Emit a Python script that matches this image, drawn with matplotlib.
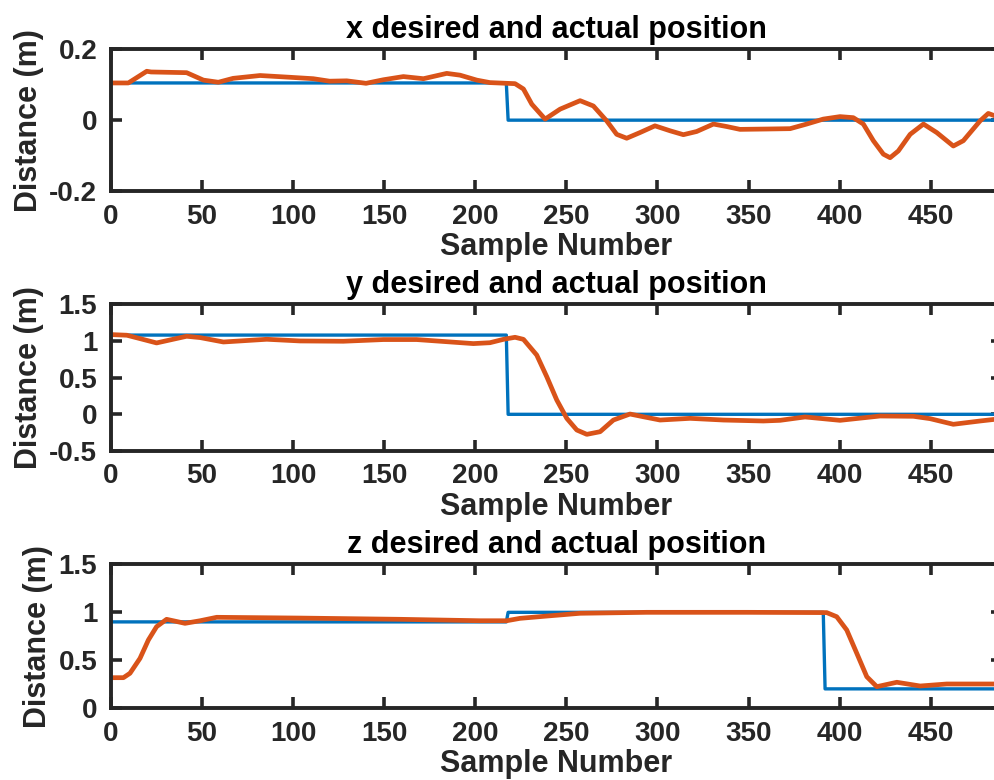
import matplotlib
matplotlib.use("Agg")
import matplotlib.pyplot as plt

# MATLAB-like colours
BLUE = "#0072BD"
ORANGE = "#D95319"
DARK = "#262626"

plt.rcParams["font.family"] = ["Liberation Sans", "DejaVu Sans"]
plt.rcParams["font.weight"] = "bold"

# desired set points (step changes)
x_des_n = [0, 217, 218, 489]
x_des = [0.105, 0.105, 0.0, 0.0]
y_des_n = [0, 217, 218, 489]
y_des = [1.08, 1.08, 0.0, 0.0]
z_des_n = [0, 217, 218, 391, 392, 489]
z_des = [0.9, 0.9, 1.0, 1.0, 0.2, 0.2]

# measured positions
x_act_n = [0, 9.5, 19.6, 22, 41.5, 50.7, 58.9, 67, 81.8, 98.3,
           111, 120, 129.4, 140, 149.5, 160.5, 171.5, 184.3, 191.6, 200.8,
           208, 221.8, 226.4, 231, 238.3, 246.5, 257.5, 264.8, 272.1, 277.6,
           283.1, 290.4, 298.6, 306.9, 314.2, 321.5, 330.7, 338, 345.3, 360,
           372.8, 381.9, 391, 400.2, 407.5, 413, 418.5, 424, 427.7, 432.2,
           438.7, 446, 453.3, 462.4, 467.9, 477.1, 481.6, 485.3]
x_act = [0.105, 0.105, 0.138, 0.136, 0.134, 0.113, 0.107, 0.118, 0.126, 0.121,
         0.117, 0.110, 0.111, 0.104, 0.114, 0.123, 0.117, 0.132, 0.127, 0.113,
         0.106, 0.103, 0.088, 0.045, 0.003, 0.031, 0.055, 0.040, -0.002, -0.040,
         -0.051, -0.035, -0.016, -0.030, -0.041, -0.032, -0.011, -0.018,
         -0.026, -0.025,
         -0.024, -0.011, 0.003, 0.010, 0.007, -0.011, -0.058, -0.096, -0.106,
         -0.087,
         -0.040, -0.011, -0.035, -0.073, -0.058, -0.002, 0.019, 0.012]

y_act_n = [0, 8.7, 15.9, 25, 41.5, 48.9, 61.7, 85.5, 103.8, 127.5,
           149.5, 167.8, 198.9, 208, 215.4, 221.8, 226.4, 233.7, 239.2, 244.7,
           250.2, 255.7, 261.2, 268.5, 275.8, 284.9, 292.2, 301.4, 317.9, 336.2,
           358.1, 367.3, 381, 400.2, 422.2, 440.5, 449.6, 462.4, 477.1, 485.3]
y_act = [1.087, 1.078, 1.032, 0.973, 1.064, 1.046, 0.986, 1.023, 1.0, 0.996,
         1.019, 1.019, 0.964, 0.976, 1.022, 1.05, 1.022, 0.808, 0.513, 0.195,
         -0.055, -0.214, -0.273, -0.237, -0.078, 0.004, -0.033, -0.078,
         -0.055, -0.078,
         -0.091, -0.082, -0.036, -0.082, -0.023, -0.027, -0.059, -0.136,
         -0.091, -0.068]

z_act_n = [0, 6.8, 10.4, 15.9, 20.5, 25, 30.5, 40.6, 48.9, 58, 103.8, 158.7,
           202.6, 217.2, 224.5, 239.2, 257.5, 294.1, 349, 392.9, 398.4,
           403.9, 409.4, 414.9, 420.4, 431.4, 444.2, 458.8, 485.3]
z_act = [0.317, 0.317, 0.363, 0.519, 0.711, 0.850, 0.927, 0.885, 0.912,
         0.948, 0.940, 0.927, 0.912, 0.912, 0.937, 0.961, 0.990, 1.0, 1.0,
         0.997, 0.954, 0.815, 0.572, 0.327, 0.223, 0.269, 0.230, 0.251,
         0.251]

x_ticks = [0, 50, 100, 150, 200, 250, 300, 350, 400, 450]

panels = [
    ("x", x_des_n, x_des, x_act_n, x_act, (-0.2, 0.2), [-0.2, 0, 0.2],
     ["-0.2", "0", "0.2"], [0.1116, 0.7551, 0.8952, 0.1817]),
    ("y", y_des_n, y_des, y_act_n, y_act, (-0.5, 1.5),
     [-0.5, 0, 0.5, 1, 1.5], ["-0.5", "0", "0.5", "1", "1.5"],
     [0.1116, 0.4218, 0.8952, 0.1881]),
    ("z", z_des_n, z_des, z_act_n, z_act, (0, 1.5), [0, 0.5, 1, 1.5],
     ["0", "0.5", "1", "1.5"], [0.1116, 0.0923, 0.8952, 0.1840]),
]

fig = plt.figure(figsize=(9.95, 7.8), dpi=100)

for name, dn, dv, an, av, ylim, yt, ytl, pos in panels:
    ax = fig.add_axes(pos)
    ax.plot(dn, dv, color=BLUE, lw=2.4)
    ax.plot(an, av, color=ORANGE, lw=3.4, solid_joinstyle="round")
    ax.set_xlim(0, 489)
    ax.set_ylim(*ylim)
    ax.set_xticks(x_ticks)
    ax.set_yticks(yt)
    ax.set_yticklabels(ytl)
    ax.tick_params(direction="in", length=8, width=2.6, top=True, right=True,
                   labelsize=20, colors=DARK, pad=9)
    ax.tick_params(axis="y", pad=10)
    for s in ax.spines.values():
        s.set_linewidth(2.8)
        s.set_color(DARK)
    ax.set_title(f"{name} desired and actual position", fontsize=22,
                 fontweight="bold", color="black", pad=8)
    ax.set_xlabel("Sample Number", fontsize=22, fontweight="bold",
                  color=DARK, labelpad=2)
    ax.set_ylabel("Distance (m)", fontsize=22, fontweight="bold",
                  color=DARK, labelpad=4)

fig.savefig("out.png", dpi=100)
